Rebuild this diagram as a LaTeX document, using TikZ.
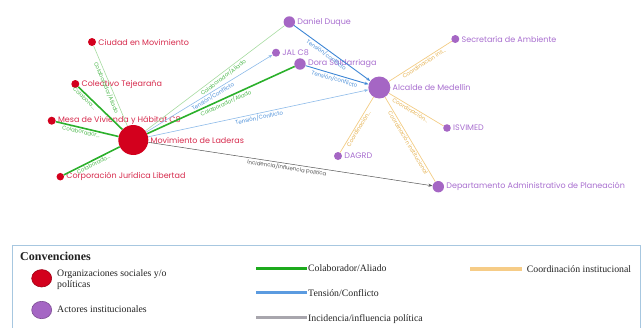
\documentclass[tikz,border=0pt]{standalone}
\usepackage{fontspec}
\setmainfont{Liberation Serif}
\newfontfamily\popfont{Poppins}
\usetikzlibrary{arrows.meta,shapes.geometric}
\definecolor{cRed}{HTML}{D3001D}
\definecolor{cRedTxt}{HTML}{D62A4C}
\definecolor{cPur}{HTML}{A566C4}
\definecolor{cPurTxt}{HTML}{A86ECF}
\definecolor{cGreen}{HTML}{2BB02B}
\definecolor{cGreenLt}{HTML}{A6DBA0}
\definecolor{cGreenTxt}{HTML}{4DB84D}
\definecolor{cBlue}{HTML}{3D86D5}
\definecolor{cBlueLt}{HTML}{8DBBE9}
\definecolor{cBlueTxt}{HTML}{4A8ED8}
\definecolor{cOra}{HTML}{F3CC84}
\definecolor{cOraTxt}{HTML}{E4B04E}
\definecolor{cGray}{HTML}{555555}
\definecolor{cLegBox}{HTML}{A7C7E0}
\definecolor{cLegGreen}{HTML}{1DAA1D}
\definecolor{cLegBlue}{HTML}{5B9BE0}
\definecolor{cLegGray}{HTML}{A8A6AD}
\definecolor{cLegOra}{HTML}{F6CC87}
\definecolor{cLegTxt}{HTML}{222222}
\begin{document}
\begin{tikzpicture}[x=1pt,y=-1pt,
  orgnode/.style={circle, fill=cRed, inner sep=0pt, minimum size=#1},
  insnode/.style={circle, fill=cPur, inner sep=0pt, minimum size=#1},
  rlab/.style={font=\popfont\fontsize{8}{9}\selectfont, text=cRedTxt, inner sep=2pt},
  plab/.style={font=\popfont\fontsize{8}{9}\selectfont, text=cPurTxt, inner sep=2pt},
  elab/.style={font=\popfont\fontsize{5.5}{6}\selectfont, sloped, inner sep=1pt},
  colthick/.style={line width=1.6pt, draw=cGreen},
  colthin/.style={line width=0.6pt, draw=cGreenLt},
  tenthin/.style={line width=0.6pt, draw=cBlueLt, -{Stealth[length=4pt,width=3pt]}},
  tenmid/.style={line width=0.9pt, draw=cBlue, -{Stealth[length=4pt,width=3pt]}},
  coor/.style={line width=0.7pt, draw=cOra},
  inc/.style={line width=0.5pt, draw=cGray, -{Stealth[length=4pt,width=3pt]}},
  legtxt/.style={font=\fontsize{9.8}{11}\selectfont, text=cLegTxt, inner sep=0pt, anchor=base west},
  legbar/.style={line width=3.3pt}
]
\useasboundingbox (0,0) rectangle (642,327);

% nodes
\node[orgnode=30, label={[rlab]right:Movimiento de Laderas}] (mov) at (133.3,140) {};
\node[orgnode=8, label={[rlab]right:Ciudad en Movimiento}] (ciu) at (92,42) {};
\node[orgnode=8, label={[rlab]right:Colectivo Tejearaña}] (col) at (75.3,84) {};
\node[orgnode=8, label={[rlab]right:Mesa de Vivienda y Hábitat C8}] (mesa) at (51.7,120.7) {};
\node[orgnode=7.5, label={[rlab]right:Corporación Jurídica Libertad}] (corp) at (60.3,176.7) {};

\node[insnode=11.4, label={[plab]right:Daniel Duque}] (dan) at (289.3,22) {};
\node[insnode=8, label={[plab]right:JAL C8}] (jal) at (276,52.7) {};
\node[insnode=11.4, label={[plab]right:Dora Saldarriaga}] (dora) at (300,64) {};
\node[insnode=22, label={[plab]right:Alcalde de Medellín}] (alc) at (379.3,87.5) {};
\node[insnode=8, label={[plab]right:Secretaría de Ambiente}] (sec) at (455.3,39) {};
\node[insnode=7.6, label={[plab]right:ISVIMED}] (isv) at (447,128) {};
\node[insnode=8, label={[plab]right:DAGRD}] (dag) at (338,156) {};
\node[insnode=11.4, label={[plab]right:Departamento Administrativo de Planeación}] (dap) at (438.3,186.7) {};

% edges
\draw[colthin] (ciu) -- node[elab, text=cGreenTxt, pos=0.5, below] {Colaborador/Aliado} (mov);
\draw[colthick] (col) -- node[elab, text=cGreenTxt, pos=0.2, below] {Colabora...} (mov);
\draw[colthick] (mesa) -- node[elab, text=cGreenTxt, pos=0.42, below] {Colaborador...} (mov);
\draw[colthick] (corp) -- node[elab, text=cGreenTxt, pos=0.5, below] {Colaborado...} (mov);
\draw[colthin] (mov) -- node[elab, text=cGreenTxt, pos=0.54, below] {Colaborador/Aliado} (dan);
\draw[tenthin] (mov) -- node[elab, text=cBlueTxt, pos=0.51, below] {Tensión/Conflicto} (jal);
\draw[colthick] (mov) -- node[elab, text=cGreenTxt, pos=0.52, below] {Colaborador/Aliado} (dora);
\draw[tenthin] (mov) -- node[elab, text=cBlueTxt, pos=0.5, below] {Tensión/Conflicto} (alc);
\draw[inc] (mov) -- node[elab, text=cGray, pos=0.49, below] {Incidencia/influencia política} (dap);
\draw[tenmid] (dan) -- node[elab, text=cBlueTxt, pos=0.46, below] {Tensión/conflicto} (alc);
\draw[tenmid] (dora) -- node[elab, text=cBlueTxt, pos=0.48, below] {Tensión/conflicto} (alc);
\draw[coor] (alc) -- node[elab, text=cOraTxt, pos=0.53, below] {Coordinación ins...} (sec);
\draw[coor] (alc) -- node[elab, text=cOraTxt, pos=0.43, below] {Coordinación...} (isv);
\draw[coor] (alc) -- node[elab, text=cOraTxt, pos=0.54, below] {Coordinación...} (dag);
\draw[coor] (alc) -- node[elab, text=cOraTxt, pos=0.52, below] {Coordinación institucional} (dap);

% legend
\draw[cLegBox, line width=0.8pt] (12.5,245) rectangle (640,340);
\node[legtxt, font=\bfseries\fontsize{12}{13}\selectfont] (convtit) at (20,260.5) {Convenciones};
\node[ellipse, fill=cRed, draw=cRed!75!black, line width=0.6pt, minimum width=20pt, minimum height=17.4pt, inner sep=0pt] (legorg) at (41.7,278.3) {};
\node[legtxt] (legorgt1) at (57,276) {Organizaciones sociales y/o};
\node[legtxt] (legorgt2) at (57,287) {políticas};
\node[ellipse, fill=cPur, draw=cPur!75!black, line width=0.6pt, minimum width=20pt, minimum height=17.4pt, inner sep=0pt] (legins) at (41.7,310) {};
\node[legtxt] (leginst) at (57,312.7) {Actores institucionales};

\draw[legbar, cLegGreen] (256,268.3) -- (307.3,268.3);
\node[legtxt] (legcol) at (308,271.6) {Colaborador/Aliado};
\draw[legbar, cLegBlue] (256,292.7) -- (307.3,292.7);
\node[legtxt] (legten) at (308,296) {Tensión/Conflicto};
\draw[legbar, cLegGray] (256,317.7) -- (307.3,317.7);
\node[legtxt] (leginc) at (308,321) {Incidencia/influencia política};
\draw[legbar, cLegOra] (470,269) -- (521.7,269);
\node[legtxt] (legcoo) at (526.7,272.3) {Coordinación institucional};
\end{tikzpicture}
\end{document}
